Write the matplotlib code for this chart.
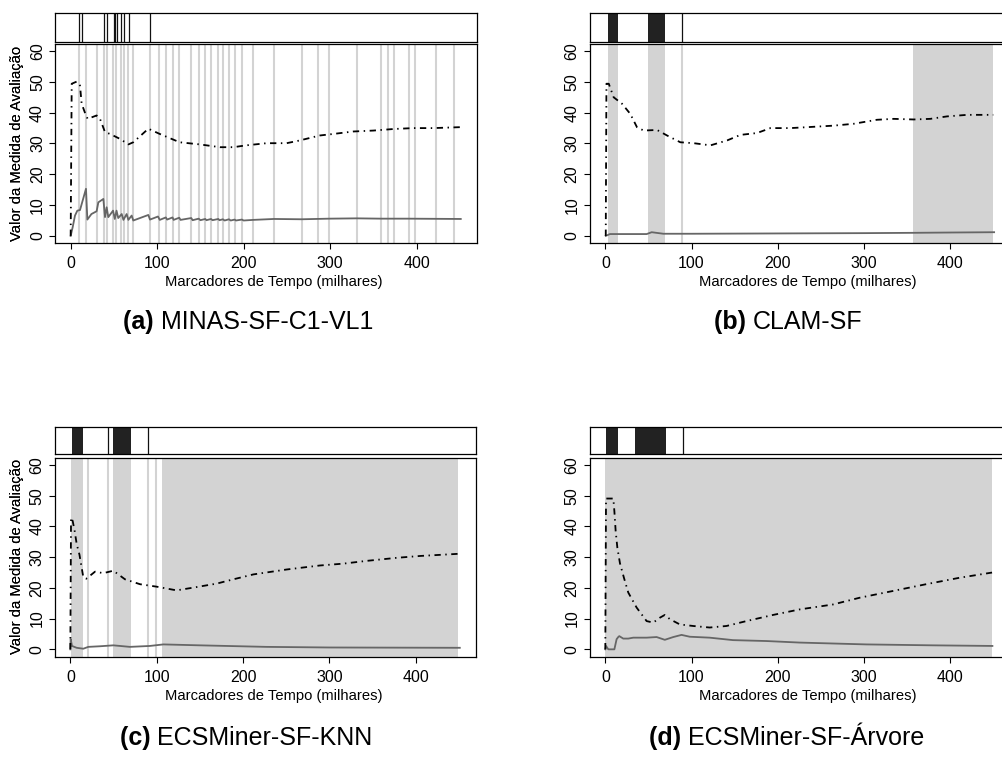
import matplotlib.pyplot as plt

plt.rcParams['font.family'] = ['Liberation Sans', 'DejaVu Sans']

# ---- dados (milhares de marcadores de tempo) ----
# (a) MINAS-SF-C1-VL1
a_dd_x = [0, 1.2, 7, 10.8, 12.7, 17.7, 19.7, 30, 33.9, 39.7, 45.5, 57, 66.7, 72.4, 89.8, 103, 126,
          149.5, 172.6, 188, 203, 226.6, 249.7, 265, 288, 303.7, 326.8, 350, 373, 396, 419, 450]
a_dd_y = [0, 49.4, 50.1, 48.8, 42.9, 39.1, 38, 39.1, 38, 33.7, 33.1, 31.5, 29.7, 30.4, 34.8, 33.1, 30.4,
          29.7, 28.8, 28.8, 29.4, 30.1, 30.1, 31, 32.6, 33.1, 33.9, 34.2, 34.7, 35, 35, 35.3]
a_s_x = [0, 2.3, 5, 7.7, 10.8, 17.7, 19.3, 24, 30, 32, 37.8, 39.7, 41.6, 43.5, 49, 51, 53, 55, 59, 61,
         64.7, 66.7, 70.5, 72.4, 89.8, 91.7, 101, 103, 110, 111.5, 117.8, 119, 125.5, 127, 139.4, 141,
         148, 150, 155.6, 157, 162.3, 164, 170.7, 172, 176, 178, 183, 185, 189.6, 191, 198, 200, 211,
         235, 267, 299, 331, 359, 390, 451]
a_s_y = [0, 2.8, 6.6, 8.2, 8.4, 15.3, 5.3, 7.1, 8, 10.9, 12, 6.1, 9.3, 6.1, 8.2, 5.5, 8.2, 5.8, 7.1, 5.2,
         7.1, 5.2, 6.6, 5, 6.8, 5.3, 6.3, 5.2, 6, 5.3, 6, 5.2, 5.9, 5.2, 5.8, 5.1,
         5.6, 5.1, 5.5, 5.1, 5.5, 5.1, 5.5, 5.1, 5.4, 5.0, 5.4, 5.0, 5.3, 5.0, 5.3, 5.0, 5.2,
         5.5, 5.4, 5.6, 5.7, 5.6, 5.6, 5.5]
a_gray_lines = [10, 18, 30, 38.6, 41.7, 49, 52, 58.3, 62.2, 66.8, 72.6, 91.5, 102.3, 110.4, 117.8,
                125.5, 139.4, 147.9, 155.6, 162.3, 170.7, 176.1, 183, 189.6, 198, 211, 235, 267, 286,
                299, 331, 358.7, 366.4, 373.8, 390.7, 397.6, 422.7, 443.5]
a_gray_bands = []
a_black_lines = [10, 13.5, 38, 41.7, 50, 51.7, 53.3, 58.5, 62.2, 67, 91.5]
a_black_bands = []

# (b) CLAM-SF
b_dd_x = [0.5, 1.3, 4, 9.7, 19.4, 29, 36.7, 44.5, 60, 71.6, 87, 102.6, 122, 141.3, 156.8, 176, 191.5,
          214.7, 234, 265, 288, 315, 334.5, 357.7, 377, 396.4, 419.6, 450]
b_dd_y = [0, 49.4, 49.4, 45, 42.9, 39.6, 35.3, 34.2, 34.4, 32.6, 30.4, 30.1, 29.4, 31, 32.8, 33.4, 35,
          35, 35.3, 35.8, 36.4, 37.7, 38, 37.8, 38, 38.8, 39.3, 39.3]
b_s_x = [0.5, 5.3, 16.9, 48, 53.8, 67.3, 100, 200, 300, 356, 400, 451]
b_s_y = [0, 0.6, 0.6, 0.6, 1.2, 0.7, 0.7, 0.8, 0.9, 1.0, 1.1, 1.2]
b_gray_lines = [89.3]
b_gray_bands = [(2.7, 14.3), (49.9, 69.3), (356.6, 449.4)]
b_black_lines = [89.3]
b_black_bands = [(3.5, 14.3), (50, 69.3)]

# (c) ECSMiner-SF-KNN
c_dd_x = [0, 0.8, 2.7, 5, 7.4, 10.5, 15, 18.5, 28.6, 38.2, 49.8, 63.3, 80.7, 100, 123, 142.5, 169.5,
          188.8, 212, 250.6, 289, 316, 343, 378, 405, 449.4]
c_dd_y = [0, 42.9, 41.8, 38.5, 34.2, 30.9, 23.5, 23, 25.3, 24.8, 25.6, 22.8, 21.2, 20.4, 19.2, 20.1,
          21.4, 22.8, 24.4, 26, 27.3, 27.9, 28.8, 29.8, 30.4, 31.1]
c_s_x = [0, 0.4, 1.9, 7.3, 15, 20.8, 34.4, 49.8, 69, 92, 107.7, 150, 227, 300, 451]
c_s_y = [0, 3.3, 1.1, 0.5, 0.2, 0.8, 1, 1.3, 0.8, 1.1, 1.6, 1.3, 0.8, 0.6, 0.5]
c_gray_lines = [20.9, 43.3, 89.6, 98.9]
c_gray_bands = [(0.4, 14.7), (49.4, 70.3), (106.6, 449.4)]
c_black_lines = [43.3, 90.4]
c_black_bands = [(2.4, 14.7), (49.4, 70.3)]

# (d) ECSMiner-SF-Arvore
d_dd_x = [0, 0.8, 5.4, 9.3, 10.5, 12, 14, 17, 21.6, 26.6, 36.3, 47.9, 55.6, 63.3, 69, 75, 86.5, 102,
          121, 140.5, 163.7, 194.6, 225.5, 264, 295, 333.6, 372, 410.8, 448.6]
d_dd_y = [0, 49.1, 49.1, 49.1, 45, 38.5, 33, 28, 23.3, 18.5, 13.6, 9.2, 8.7, 10.3, 11.2, 9.8, 8.1, 7.6,
          7.1, 7.6, 9.2, 11.2, 13, 14.6, 16.8, 19, 21.2, 23.3, 25]
d_s_x = [0, 0.8, 3.5, 10.5, 13.1, 15, 16.2, 20.8, 26.6, 32.4, 47.9, 59.5, 69, 78.8, 88.4, 98, 121,
         148, 187, 225.5, 302.7, 380, 449]
d_s_y = [0, 1.1, 0, 0, 3.3, 4, 4.3, 3.5, 3.5, 3.8, 3.8, 4, 3.1, 4, 4.7, 4.1, 3.8,
         3, 2.7, 2.2, 1.6, 1.3, 1.1]
d_gray_lines = []
d_gray_bands = [(0, 448.6)]
d_black_lines = [89.8]
d_black_bands = [(1.2, 15.1), (34.5, 70)]

titulos = ['(a)', '(b)', '(c)', '(d)']
nomes = ['MINAS-SF-C1-VL1', 'CLAM-SF', 'ECSMiner-SF-KNN', 'ECSMiner-SF-Árvore']

x_ticks = [0, 100, 200, 300, 400]
y_ticks = [0, 10, 20, 30, 40, 50, 60]

# ---- figura ----
FW, FH = 1003, 774
fig = plt.figure(figsize=(FW / 100, FH / 100), dpi=100)


def eixo(left, top, width, height):
    return fig.add_axes([left / FW, 1 - (top + height) / FH, width / FW, height / FH])


# left, largura, topo faixa, base faixa, topo principal, base principal, centro legenda (x, y)
layout = [
    (55.1, 422.1, 13.3, 41.7, 42.7, 243.3, 248, 322),
    (589.8, 420.7, 13.3, 41.7, 42.7, 243.3, 788, 322),
    (54.8, 421.4, 426.7, 454.3, 456.7, 656.7, 246, 738),
    (589.8, 420.7, 426.7, 454.3, 456.7, 656.7, 787, 738),
]

paineis = [
    (a_dd_x, a_dd_y, a_s_x, a_s_y, a_gray_lines, a_gray_bands, a_black_lines, a_black_bands),
    (b_dd_x, b_dd_y, b_s_x, b_s_y, b_gray_lines, b_gray_bands, b_black_lines, b_black_bands),
    (c_dd_x, c_dd_y, c_s_x, c_s_y, c_gray_lines, c_gray_bands, c_black_lines, c_black_bands),
    (d_dd_x, d_dd_y, d_s_x, d_s_y, d_gray_lines, d_gray_bands, d_black_lines, d_black_bands),
]

XLIM = (-18, 470)
YLIM = (-2.4, 62.4)
cinza = '#d3d3d3'

renderer = fig.canvas.get_renderer()

for i, (dx, dy, sx, sy, glines, gbands, blines, bbands) in enumerate(paineis):
    L, W, st, sb, mt, mb, cx, cy = layout[i]

    # faixa superior
    faixa = eixo(L, st, W, sb - st)
    faixa.set_xlim(XLIM)
    faixa.set_ylim(0, 1)
    for a, b in bbands:
        faixa.axvspan(a, b, color='#222222', lw=0)
    faixa.vlines(blines, 0, 1, color='#111111', lw=0.9)
    faixa.set_xticks([])
    faixa.set_yticks([])
    for s in faixa.spines.values():
        s.set_linewidth(0.9)

    # grafico principal
    ax = eixo(L, mt + 1, W, mb - mt - 1)
    ax.set_xlim(XLIM)
    ax.set_ylim(YLIM)
    for a, b in gbands:
        ax.axvspan(a, b, color=cinza, lw=0, zorder=1)
    ax.vlines(glines, YLIM[0], YLIM[1], color=cinza, lw=1.5, zorder=1)
    ax.plot(sx, sy, color='#666666', lw=1.3, zorder=3)
    ax.plot(dx, dy, color='black', lw=1.3, linestyle=(0, (3.5, 2.5, 0.8, 2.5)), zorder=4)

    ax.set_xticks(x_ticks)
    ax.set_yticks(y_ticks)
    ax.tick_params(direction='out', length=4.3, width=0.8, labelsize=11.5)
    ax.tick_params(axis='x', pad=5)
    ax.tick_params(axis='y', pad=3)
    for lab in ax.get_yticklabels():
        lab.set_rotation(90)
        lab.set_va('center')
    for s in ax.spines.values():
        s.set_linewidth(0.9)

    x_centro = L + (18 + 235) * W / 488
    fig.text(x_centro / FW, 1 - (mb + 39) / FH, 'Marcadores de Tempo (milhares)',
             ha='center', va='center', fontsize=10.6)
    fig.text(17 / FW, 1 - ((mt + mb) / 2) / FH, 'Valor da Medida de Avaliação',
             rotation=90, ha='center', va='center', fontsize=10.6)

    # legenda: letra em negrito + nome
    yy = 1 - cy / FH
    t1 = fig.text(0, yy, titulos[i] + ' ', fontsize=18, fontweight='bold', ha='left', va='center')
    t2 = fig.text(0, yy, nomes[i], fontsize=18, ha='left', va='center')
    w1 = t1.get_window_extent(renderer).width
    w2 = t2.get_window_extent(renderer).width
    x0 = cx - (w1 + w2) / 2
    t1.set_x(x0 / FW)
    t2.set_x((x0 + w1) / FW)

fig.savefig('out.png', dpi=100)
